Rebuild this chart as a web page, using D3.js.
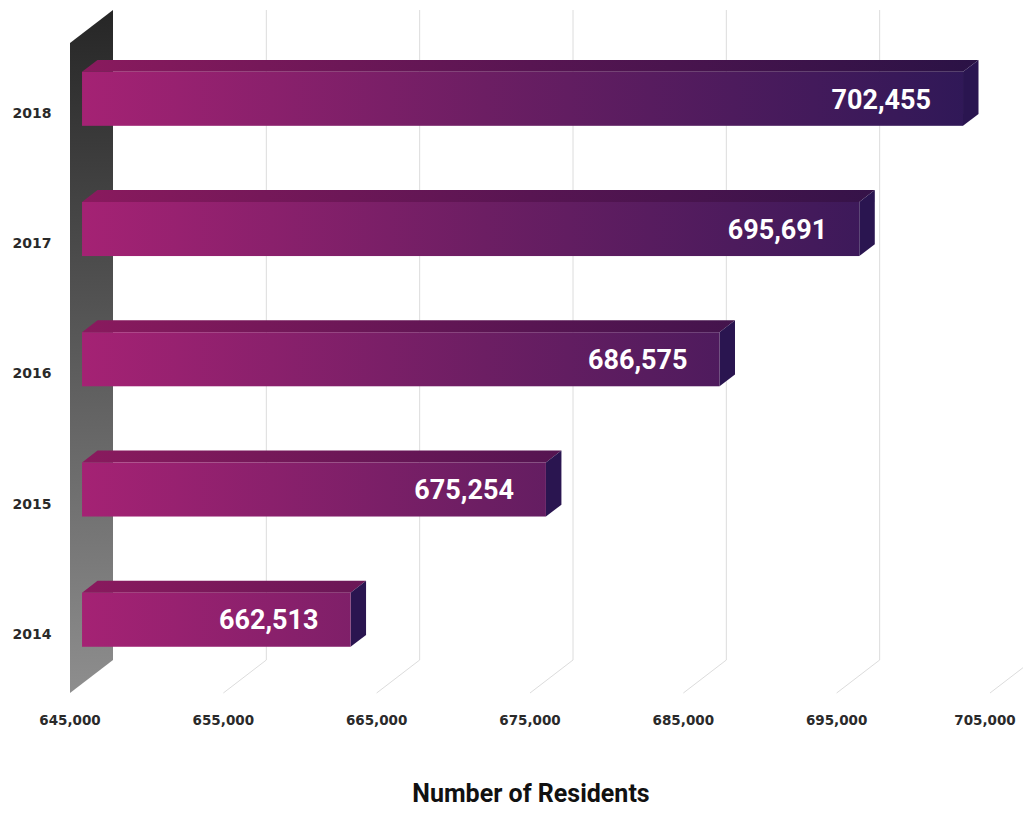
<!DOCTYPE html>
<html>
<head>
<meta charset="utf-8">
<script src="https://cdn.jsdelivr.net/npm/d3@7"></script>
<style>
  html, body { margin: 0; padding: 0; background: #fff; }
  svg { display: block; }
  .tick-label { font-family: "DejaVu Sans", sans-serif; font-weight: bold; font-size: 13.5px; fill: #2a2a2a; }
  .year-label { font-family: "DejaVu Sans", sans-serif; font-weight: bold; font-size: 14px; fill: #2a2a2a; }
  .value-label { font-family: Roboto, "Liberation Sans", sans-serif; font-weight: bold; font-size: 27px; fill: #fff; }
  .axis-title { font-family: Roboto, "Liberation Sans", sans-serif; font-weight: bold; font-size: 25px; fill: #111; }
</style>
</head>
<body>
<div id="chart"></div>
<script>
// data
const years = ["2018", "2017", "2016", "2015", "2014"];
const residents = [702455, 695691, 686575, 675254, 662513];
const tickValues = [645000, 655000, 665000, 675000, 685000, 695000, 705000];
const axisTitle = "Number of Residents";

function render() {
  let width = 1023, height = 831,
      depthX = 43, depthY = -33,          // offset from front plane to back wall
      wallTop = 43, floorY = 693,
      barFront = 0.28, barBack = 0.64;    // bar depth as fraction of the full depth

  let data = years.map((y, i) => ({ year: y, value: residents[i] }));

  let xScale = d3.scaleLinear().domain([645000, 705000]).range([70, 990]);
  let yScale = d3.scaleBand().domain(years).range([81, 656]).paddingInner(0.585).paddingOuter(0);

  // project a point at depth z (0 = front, 1 = back)
  let px = (x, z) => x + z * depthX;
  let py = (y, z) => y + z * depthY;

  let svg = d3.select("#chart").append("svg").attr("width", width).attr("height", height);
  let defs = svg.append("defs");

  let wallGrad = defs.append("linearGradient").attr("id", "wallGrad")
      .attr("x1", 0).attr("y1", 0).attr("x2", 0).attr("y2", 1);
  wallGrad.append("stop").attr("offset", "0%").attr("stop-color", "#262626");
  wallGrad.append("stop").attr("offset", "100%").attr("stop-color", "#8e8e8e");

  let frontGrad = defs.append("linearGradient").attr("id", "frontGrad")
      .attr("gradientUnits", "userSpaceOnUse").attr("x1", 80).attr("x2", 980).attr("y1", 0).attr("y2", 0);
  frontGrad.append("stop").attr("offset", "0%").attr("stop-color", "#a52274");
  frontGrad.append("stop").attr("offset", "45%").attr("stop-color", "#6c1e63");
  frontGrad.append("stop").attr("offset", "100%").attr("stop-color", "#2e1857");

  let topGrad = defs.append("linearGradient").attr("id", "topGrad")
      .attr("gradientUnits", "userSpaceOnUse").attr("x1", 80).attr("x2", 980).attr("y1", 0).attr("y2", 0);
  topGrad.append("stop").attr("offset", "0%").attr("stop-color", "#8a1a5e");
  topGrad.append("stop").attr("offset", "50%").attr("stop-color", "#581552");
  topGrad.append("stop").attr("offset", "100%").attr("stop-color", "#2a1245");

  // grid lines on the back wall + floor diagonals
  let grid = svg.append("g").attr("class", "grid");
  tickValues.slice(1).forEach(t => {
    let x = xScale(t);
    grid.append("path")
        .attr("d", `M${px(x, 1)},${py(wallTop, 1)} L${px(x, 1)},${py(floorY, 1)} L${px(x, 0)},${py(floorY, 0)}`)
        .attr("fill", "none").attr("stroke", "#dcdcdc").attr("stroke-width", 1);
  });

  // left side wall
  let x0 = xScale(645000);
  svg.append("path")
      .attr("d", `M${px(x0, 0)},${py(wallTop, 0)} L${px(x0, 1)},${py(wallTop, 1)} L${px(x0, 1)},${py(floorY, 1)} L${px(x0, 0)},${py(floorY, 0)}Z`)
      .attr("fill", "url(#wallGrad)");

  // bars
  let bars = svg.selectAll(".bar").data(data).enter().append("g").attr("class", "bar");
  let zf = barFront, zb = barBack;
  bars.append("path").attr("class", "top")
      .attr("d", d => {
        let a = xScale(645000), b = xScale(d.value), y = yScale(d.year);
        return `M${px(a, zf)},${py(y, zf)} L${px(a, zb)},${py(y, zb)} L${px(b, zb)},${py(y, zb)} L${px(b, zf)},${py(y, zf)}Z`;
      })
      .attr("fill", "url(#topGrad)");
  bars.append("path").attr("class", "side")
      .attr("d", d => {
        let b = xScale(d.value), y = yScale(d.year), h = yScale.bandwidth();
        return `M${px(b, zf)},${py(y, zf)} L${px(b, zb)},${py(y, zb)} L${px(b, zb)},${py(y + h, zb)} L${px(b, zf)},${py(y + h, zf)}Z`;
      })
      .attr("fill", "#2a1550");
  bars.append("rect").attr("class", "front")
      .attr("x", px(xScale(645000), zf))
      .attr("y", d => py(yScale(d.year), zf))
      .attr("width", d => xScale(d.value) - xScale(645000))
      .attr("height", yScale.bandwidth())
      .attr("fill", "url(#frontGrad)");
  bars.append("text").attr("class", "value-label")
      .attr("x", d => px(xScale(d.value), zf) - 32)
      .attr("y", d => py(yScale(d.year) + yScale.bandwidth() / 2, zf))
      .attr("dy", "0.36em")
      .attr("text-anchor", "end")
      .text(d => d3.format(",")(d.value));

  // year labels
  svg.selectAll(".year-label").data(data).enter().append("text")
      .attr("class", "year-label")
      .attr("x", 32)
      .attr("y", d => yScale(d.year) + yScale.bandwidth() / 2 + 5)
      .attr("dy", "0.35em")
      .attr("text-anchor", "middle")
      .text(d => d.year);

  // x tick labels on the front edge
  svg.selectAll(".tick-label").data(tickValues).enter().append("text")
      .attr("class", "tick-label")
      .attr("x", d => Math.min(xScale(d), 985))
      .attr("y", 720)
      .attr("dy", "0.35em")
      .attr("text-anchor", "middle")
      .text(d => d3.format(",")(d));

  svg.append("text").attr("class", "axis-title")
      .attr("x", 531).attr("y", 793).attr("dy", "0.35em")
      .attr("text-anchor", "middle")
      .text(axisTitle);
}

render();
</script>
</body>
</html>
